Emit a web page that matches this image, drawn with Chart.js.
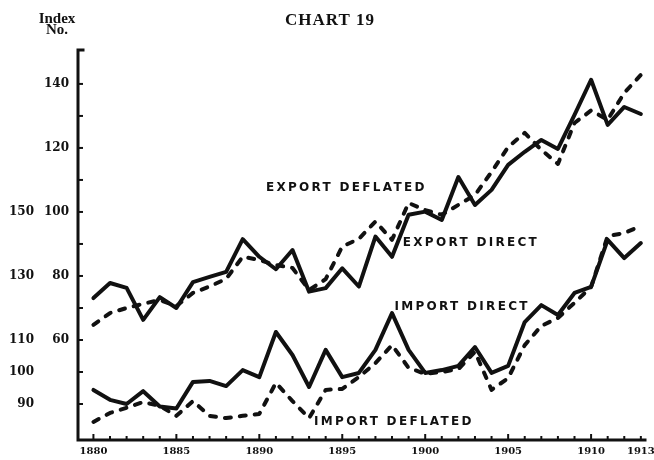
<!DOCTYPE html>
<html>
<head>
<meta charset="utf-8">
<title>Chart 19</title>
<script src="https://cdn.jsdelivr.net/npm/chart.js@4/dist/chart.umd.min.js"></script>
<style>
  html, body { margin: 0; padding: 0; background: #fff; }
  #wrap { width: 654px; height: 460px; }
</style>
</head>
<body>
<div id="wrap"><canvas id="chart19" width="654" height="460"></canvas></div>
<script>
'use strict';

// Years on the x axis
const years = [1880, 1881, 1882, 1883, 1884, 1885, 1886, 1887, 1888, 1889,
  1890, 1891, 1892, 1893, 1894, 1895, 1896, 1897, 1898, 1899,
  1900, 1901, 1902, 1903, 1904, 1905, 1906, 1907, 1908, 1909,
  1910, 1911, 1912, 1913];

// Export indexes (inner scale)
const exportDirect = [73.1, 77.8, 76.3, 66.3, 73.4, 70.0, 78.1, 79.7, 81.3, 91.5,
  86.0, 82.1, 88.1, 75.1, 76.2, 82.4, 76.7, 92.3, 86.0, 99.1,
  100.1, 97.5, 110.9, 102.2, 106.9, 114.7, 118.8, 122.5, 119.7, 130.3,
  141.3, 127.2, 132.8, 130.6];
const exportDeflated = [64.7, 68.4, 70.0, 71.3, 72.5, 70.6, 74.7, 76.7, 79.1, 86.0,
  85.0, 83.4, 82.5, 75.6, 79.0, 89.2, 91.6, 97.0, 91.3, 102.8,
  100.6, 99.1, 102.2, 105.3, 112.5, 120.3, 124.7, 119.4, 115.0, 127.8,
  131.7, 128.8, 137.2, 142.8];

// Import indexes (outer scale)
const importDirect = [94.4, 91.3, 90.0, 94.0, 89.2, 88.6, 96.9, 97.2, 95.6, 100.6,
  98.4, 112.5, 105.3, 95.3, 106.9, 98.4, 99.7, 106.9, 118.4, 106.9,
  99.7, 100.6, 101.9, 107.8, 99.7, 101.9, 115.6, 120.9, 117.8, 124.7,
  126.6, 141.3, 135.6, 140.3];
const importDeflated = [84.4, 87.2, 88.8, 90.6, 89.4, 86.3, 90.9, 86.3, 85.6, 86.3,
  86.9, 96.6, 90.9, 85.6, 94.4, 94.7, 98.4, 102.8, 108.4, 101.3,
  99.4, 100.0, 100.9, 106.3, 94.4, 98.1, 108.4, 114.4, 116.9, 121.6,
  126.6, 142.5, 143.4, 145.6];

// Tick labels
const exportTicks = [140, 120, 100, 80, 60];
const importTicks = [150, 130, 110, 100, 90];
const yearTicks = [1880, 1885, 1890, 1895, 1900, 1905, 1910, 1913];

const INK = '#111';
const IMPORT_OFFSET = 50; // import scale sits 50 points above the export scale
const yMin = 28.75, yMax = 150.6;

const toPoints = vals => vals.map((v, i) => ({ x: years[i], y: v }));

function lineSet(label, vals, dashed, axis) {
  return {
    label,
    data: toPoints(vals),
    yAxisID: axis,
    borderColor: INK,
    borderWidth: 4,
    borderDash: dashed ? [6, 9] : [],
    borderCapStyle: 'round',
    borderJoinStyle: 'round',
    pointRadius: 0,
    tension: 0,
    fill: false
  };
}

// text labels put next to the curves (year, export-scale value)
const curveNotes = [
  { text: 'EXPORT DEFLATED', year: 1890.4, v: 107.5 },
  { text: 'EXPORT DIRECT', year: 1898.65, v: 90.3 },
  { text: 'IMPORT DIRECT', year: 1898.15, v: 70.3 },
  { text: 'IMPORT DEFLATED', year: 1893.3, v: 34.4 }
];

function seg(ctx, x1, y1, x2, y2) {
  ctx.beginPath();
  ctx.moveTo(x1, y1);
  ctx.lineTo(x2, y2);
  ctx.stroke();
}

const oldStyleAxes = {
  id: 'oldStyleAxes',
  afterDatasetsDraw(chart) {
    const { ctx, chartArea: a } = chart;
    const x = chart.scales.x, y = chart.scales.y, y2 = chart.scales.y2;
    ctx.save();
    ctx.strokeStyle = INK;
    ctx.fillStyle = INK;

    // axis lines
    ctx.lineWidth = 3;
    ctx.lineCap = 'square';
    ctx.beginPath();
    ctx.moveTo(a.left + 5, a.top);
    ctx.lineTo(a.left, a.top);
    ctx.lineTo(a.left, a.bottom);
    ctx.lineTo(a.right, a.bottom);
    ctx.stroke();

    // inward ticks
    ctx.lineWidth = 2;
    ctx.lineCap = 'butt';
    for (let v = 40; v <= 140; v += 10) {
      const py = y.getPixelForValue(v);
      seg(ctx, a.left, py, a.left + 5, py);
    }
    years.forEach(yr => {
      const px = x.getPixelForValue(yr);
      seg(ctx, px, a.bottom, px, a.bottom - (yr % 5 === 0 ? 6 : 4));
    });

    // y labels
    ctx.font = 'bold 12px "DejaVu Serif"';
    ctx.textAlign = 'right';
    ctx.textBaseline = 'middle';
    exportTicks.forEach(v => ctx.fillText(String(v), a.left - 9, y.getPixelForValue(v)));
    importTicks.forEach(v => ctx.fillText(String(v), a.left - 44, y2.getPixelForValue(v)));

    // x labels
    ctx.font = 'bold 10px "DejaVu Serif"';
    ctx.textAlign = 'center';
    ctx.textBaseline = 'top';
    yearTicks.forEach(yr => ctx.fillText(String(yr), x.getPixelForValue(yr), a.bottom + 6));

    // curve names
    ctx.font = 'bold 12px "DejaVu Sans"';
    ctx.letterSpacing = '2.3px';
    ctx.textAlign = 'left';
    ctx.textBaseline = 'middle';
    curveNotes.forEach(n => ctx.fillText(n.text, x.getPixelForValue(n.year), y.getPixelForValue(n.v)));

    // headings
    ctx.letterSpacing = '1px';
    ctx.textAlign = 'center';
    ctx.font = 'bold 17px "Liberation Serif"';
    ctx.fillText('CHART 19', 330, 21);
    ctx.letterSpacing = '0px';
    ctx.font = 'bold 15px "Liberation Serif"';
    ctx.fillText('Index', 57, 19);
    ctx.fillText('No.', 57, 30);
    ctx.restore();
  }
};

const chart = new Chart(document.getElementById('chart19').getContext('2d'), {
  type: 'line',
  data: {
    datasets: [
      lineSet('Export direct', exportDirect, false, 'y'),
      lineSet('Export deflated', exportDeflated, true, 'y'),
      lineSet('Import direct', importDirect, false, 'y2'),
      lineSet('Import deflated', importDeflated, true, 'y2')
    ]
  },
  options: {
    responsive: false,
    animation: false,
    devicePixelRatio: 1,
    layout: { padding: { left: 78, top: 50, right: 9, bottom: 20 } },
    plugins: { legend: { display: false }, tooltip: { enabled: false }, title: { display: false } },
    scales: {
      x: { type: 'linear', display: false, min: 1879.07, max: 1913.25 },
      y: { display: false, min: yMin, max: yMax },
      y2: { display: false, min: yMin + IMPORT_OFFSET, max: yMax + IMPORT_OFFSET }
    }
  },
  plugins: [oldStyleAxes]
});
</script>
</body>
</html>
